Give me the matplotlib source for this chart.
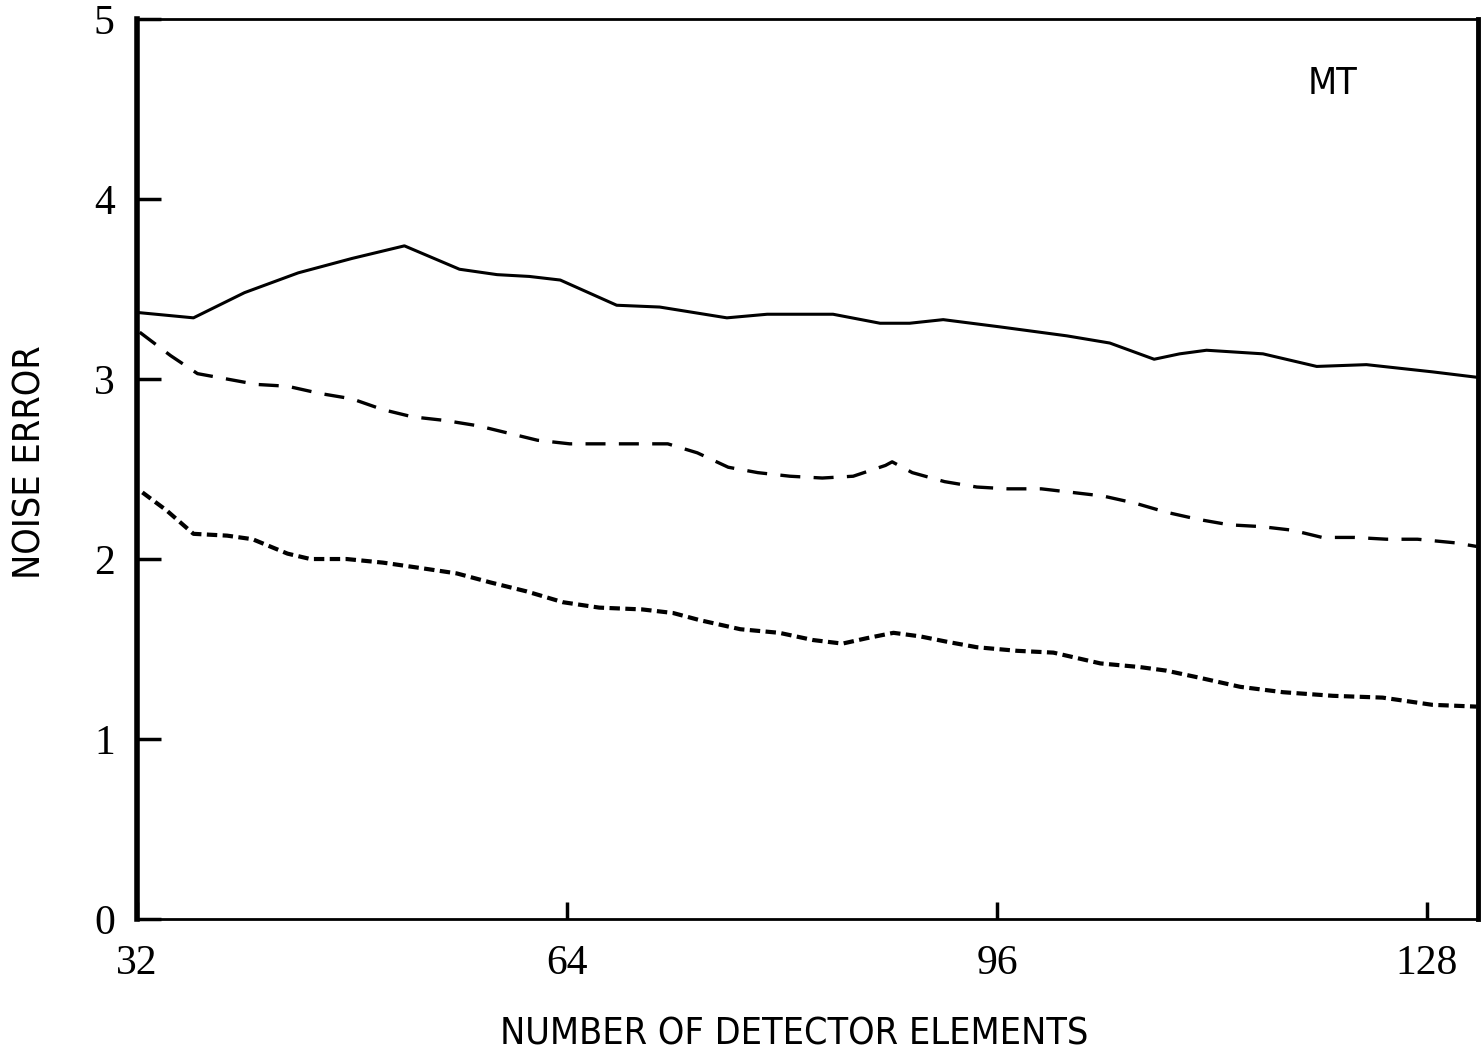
#noise error vs number of detector elements (MT)
import matplotlib
matplotlib.use("Agg")
import matplotlib.pyplot as plt

#Data
solid_x = [32.0, 36.2, 40.0, 44.0, 48.0, 51.9, 56.0, 58.8, 61.2, 63.5, 67.7, 70.9, 75.9, 78.9,
           83.8, 87.3, 89.5, 92.0, 96.2, 101.2, 104.4, 107.7, 109.6, 111.6, 115.8, 119.8,
           123.5, 128.4, 131.7]
solid_y = [3.37, 3.34, 3.48, 3.59, 3.67, 3.74, 3.61, 3.58, 3.57, 3.55, 3.41, 3.40, 3.34, 3.36,
           3.36, 3.31, 3.31, 3.33, 3.29, 3.24, 3.20, 3.11, 3.14, 3.16, 3.14, 3.07,
           3.08, 3.04, 3.01]

dash_x = [32.2, 34.5, 36.5, 38.7, 40.9, 43.2, 45.6, 48.0, 50.3, 52.5, 54.9, 57.4, 59.6, 61.8,
          64.2, 66.7, 68.9, 71.5, 73.7, 76.0, 78.2, 80.6, 83.0, 85.3, 87.7, 88.2, 89.7,
          92.1, 94.5, 96.8, 99.3, 101.6, 103.9, 106.3, 108.6, 111.0, 113.3, 115.7, 118.0,
          120.2, 122.6, 125.0, 127.3, 130.1, 131.7]
dash_y = [3.26, 3.13, 3.03, 3.00, 2.97, 2.96, 2.92, 2.89, 2.83, 2.79, 2.77, 2.74, 2.70, 2.66,
          2.64, 2.64, 2.64, 2.64, 2.59, 2.51, 2.48, 2.46, 2.45, 2.46, 2.52, 2.54, 2.48,
          2.43, 2.40, 2.39, 2.39, 2.37, 2.35, 2.31, 2.26, 2.22, 2.19, 2.18, 2.16,
          2.12, 2.12, 2.11, 2.11, 2.09, 2.07]

dot_x = [32.4, 34.2, 36.2, 38.7, 40.6, 43.2, 44.9, 47.6, 50.3, 53.1, 55.8, 58.3, 61.0, 63.7,
         66.4, 69.6, 71.9, 73.9, 76.9, 79.8, 82.3, 84.5, 86.3, 88.3, 90.3, 92.3, 94.5,
         97.5, 100.2, 103.7, 106.6, 108.6, 111.1, 114.1, 117.3, 121.0, 124.7, 128.4, 131.7]
dot_y = [2.37, 2.27, 2.14, 2.13, 2.11, 2.03, 2.00, 2.00, 1.98, 1.95, 1.92, 1.87, 1.82, 1.76,
         1.73, 1.72, 1.70, 1.66, 1.61, 1.59, 1.55, 1.53, 1.56, 1.59, 1.57, 1.54, 1.51,
         1.49, 1.48, 1.42, 1.40, 1.38, 1.34, 1.29, 1.26, 1.24, 1.23, 1.19, 1.18]

x_ticks = [32, 64, 96, 128]
y_ticks = [0, 1, 2, 3, 4, 5]

label_font = ['Liberation Sans Narrow', 'DejaVu Sans']
num_font = ['Liberation Serif', 'DejaVu Serif']

fig = plt.figure(figsize=(14.83, 10.59), dpi=100)
ax = fig.add_axes([0.0924, 0.1322, 0.9042, 0.8498])

ax.plot(solid_x, solid_y, color='black', lw=2.2, linestyle='-')
ax.plot(dash_x, dash_y, color='black', lw=2.4, linestyle=(0, (6, 4)))
ax.plot(dot_x, dot_y, color='black', lw=3.0, linestyle=(0, (2.5, 1.3)))

ax.set_xlim(32, 131.8)
ax.set_ylim(0, 5)
ax.set_xticks(x_ticks)
ax.set_yticks(y_ticks)
ax.set_xticklabels([str(v) for v in x_ticks], family=num_font, fontsize=30)
ax.set_yticklabels([str(v) for v in y_ticks], family=num_font, fontsize=30)
ax.tick_params(axis='x', direction='in', length=12, width=2.5, pad=18)
ax.tick_params(axis='y', direction='in', length=17, width=2.5, pad=16)

for side, w in [('left', 4), ('right', 3.5), ('top', 2), ('bottom', 2)]:
    ax.spines[side].set_linewidth(w)

ax.set_xlabel('NUMBER OF DETECTOR ELEMENTS', family=label_font, fontsize=27, fontstretch='condensed')
ax.xaxis.set_label_coords(0.49, -0.108)
ax.set_ylabel('NOISE ERROR', family=label_font, fontsize=27, fontstretch='condensed')
ax.yaxis.set_label_coords(-0.066, 0.508)

ax.text(121, 4.64, 'MT', family=label_font, fontsize=27, fontstretch='condensed', ha='center', va='center')

fig.savefig('out.png', dpi=100)
